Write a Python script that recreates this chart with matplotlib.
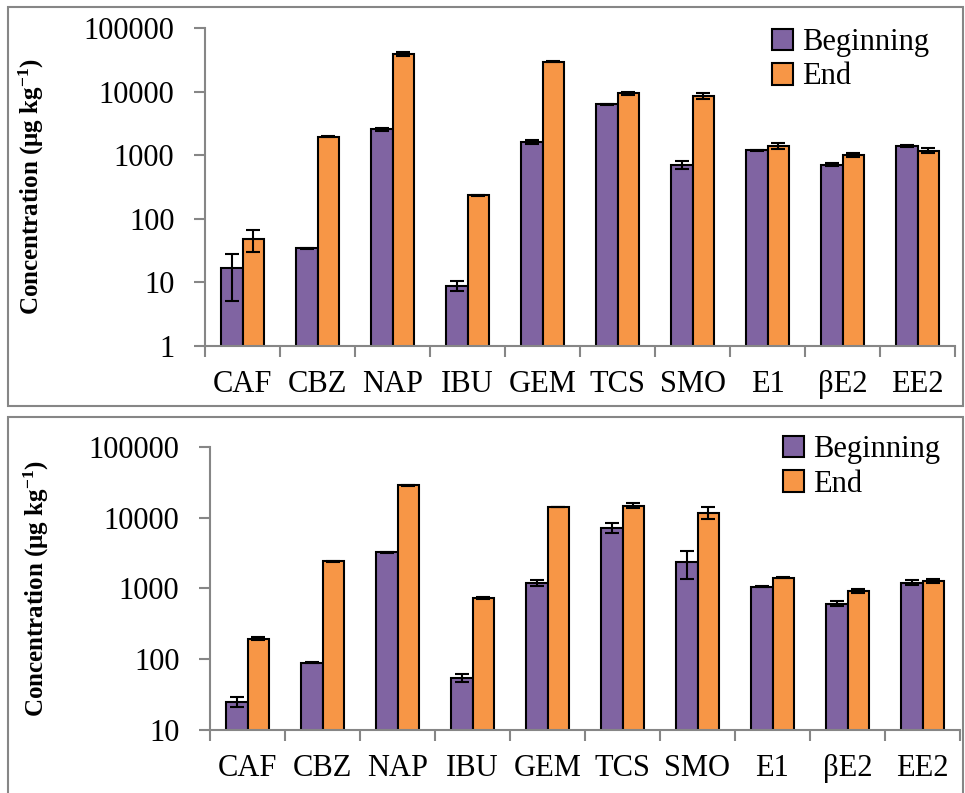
import numpy as np
import matplotlib
matplotlib.use("Agg")
import matplotlib.pyplot as plt
from matplotlib.patches import Rectangle
from matplotlib.ticker import FixedLocator, NullLocator, FuncFormatter

plt.rcParams['font.family'] = ['Liberation Serif', 'DejaVu Serif']
plt.rcParams['mathtext.fontset'] = 'custom'
plt.rcParams['mathtext.rm'] = 'Liberation Serif'
plt.rcParams['mathtext.bf'] = 'Liberation Serif:bold'
plt.rcParams['mathtext.default'] = 'bf'

compounds = ['CAF', 'CBZ', 'NAP', 'IBU', 'GEM', 'TCS', 'SMO', 'E1', 'βE2', 'EE2']

# top panel
top_begin = [16.6, 34.4, 2550, 8.9, 1610, 6300, 710, 1190, 710, 1400]
top_begin_err = [11.5, 0.6, 120, 1.5, 120, 60, 110, 20, 45, 70]
top_end = [47.6, 1950, 39000, 234, 29500, 9400, 8600, 1410, 1020, 1180]
top_end_err = [18, 30, 2500, 4, 800, 600, 1000, 140, 80, 110]

# bottom panel
bot_begin = [25.1, 89, 3220, 55, 1190, 7200, 2350, 1060, 608, 1200]
bot_begin_err = [4, 2, 50, 7, 115, 1170, 1000, 30, 53, 95]
bot_end = [195, 2400, 28400, 723, 14100, 14700, 11700, 1416, 916, 1270]
bot_end_err = [8, 40, 300, 20, 200, 1200, 2250, 25, 70, 80]

purple = '#8064A2'
orange = '#F79646'
grey = '#868686'

fig = plt.figure(figsize=(9.65, 7.93), dpi=100)

# panel frames
fig.patches.append(Rectangle((8 / 965, 1 - 406 / 793), 955 / 965, 399 / 793,
                             transform=fig.transFigure, fill=False,
                             edgecolor=grey, linewidth=1.5))
fig.patches.append(Rectangle((8 / 965, -0.01), 955 / 965, 1 - 417 / 793 + 0.01,
                             transform=fig.transFigure, fill=False,
                             edgecolor=grey, linewidth=1.5))


def panel(ax, beg, beg_err, end, end_err, ymin, leg_anchor):
    x = np.arange(len(compounds))
    w = 0.293
    ekw = dict(ecolor='black', elinewidth=1.5, capsize=5, capthick=1.5)
    ax.bar(x - w / 2, beg, w, yerr=beg_err, color=purple, edgecolor='black',
           linewidth=1.5, label='Beginning', error_kw=ekw, zorder=2)
    ax.bar(x + w / 2, end, w, yerr=end_err, color=orange, edgecolor='black',
           linewidth=1.5, label='End', error_kw=ekw, zorder=2)
    ax.set_yscale('log')
    ax.set_ylim(ymin, 100000)
    ax.set_xlim(-0.5, len(compounds) - 0.5)
    ax.yaxis.set_major_locator(FixedLocator([10 ** k for k in range(int(np.log10(ymin)), 6)]))
    ax.yaxis.set_minor_locator(NullLocator())
    ax.yaxis.set_major_formatter(FuncFormatter(lambda v, p: '%d' % round(v)))
    ax.xaxis.set_major_locator(FixedLocator(np.arange(len(compounds) + 1) - 0.5))
    ax.xaxis.set_major_formatter(FuncFormatter(lambda v, p: ''))
    ax.xaxis.set_minor_locator(FixedLocator(x))
    ax.set_xticklabels(compounds, minor=True)
    ax.tick_params(axis='x', which='major', length=8, width=1.5, color=grey, direction='out')
    ax.tick_params(axis='x', which='minor', length=0, pad=17, labelsize=22)
    ax.tick_params(axis='y', which='major', length=8, width=1.5, color=grey,
                   direction='out', pad=14, labelsize=22)
    for s in ['top', 'right']:
        ax.spines[s].set_visible(False)
    for s in ['left', 'bottom']:
        ax.spines[s].set_color(grey)
        ax.spines[s].set_linewidth(1.5)
    ax.set_ylabel('Concentration (μg kg$^{-1}$)', fontsize=18, fontweight='bold')
    ax.yaxis.set_label_coords(-0.212, 0.5)
    ax.legend(loc='upper left', bbox_to_anchor=leg_anchor, frameon=False,
              fontsize=22, handlelength=0.7, handleheight=0.7,
              handletextpad=0.3, labelspacing=0.18, borderpad=0, borderaxespad=0)


ax1 = fig.add_axes([205 / 965, 1 - 346 / 793, 750 / 965, 318 / 793])
panel(ax1, top_begin, top_begin_err, top_end, top_end_err, 1, (0.756, 1.0))

ax2 = fig.add_axes([210 / 965, 1 - 730 / 793, 750 / 965, 283.3 / 793])
panel(ax2, bot_begin, bot_begin_err, bot_end, bot_end_err, 10, (0.764, 1.04))

fig.savefig('out.png', dpi=100)
